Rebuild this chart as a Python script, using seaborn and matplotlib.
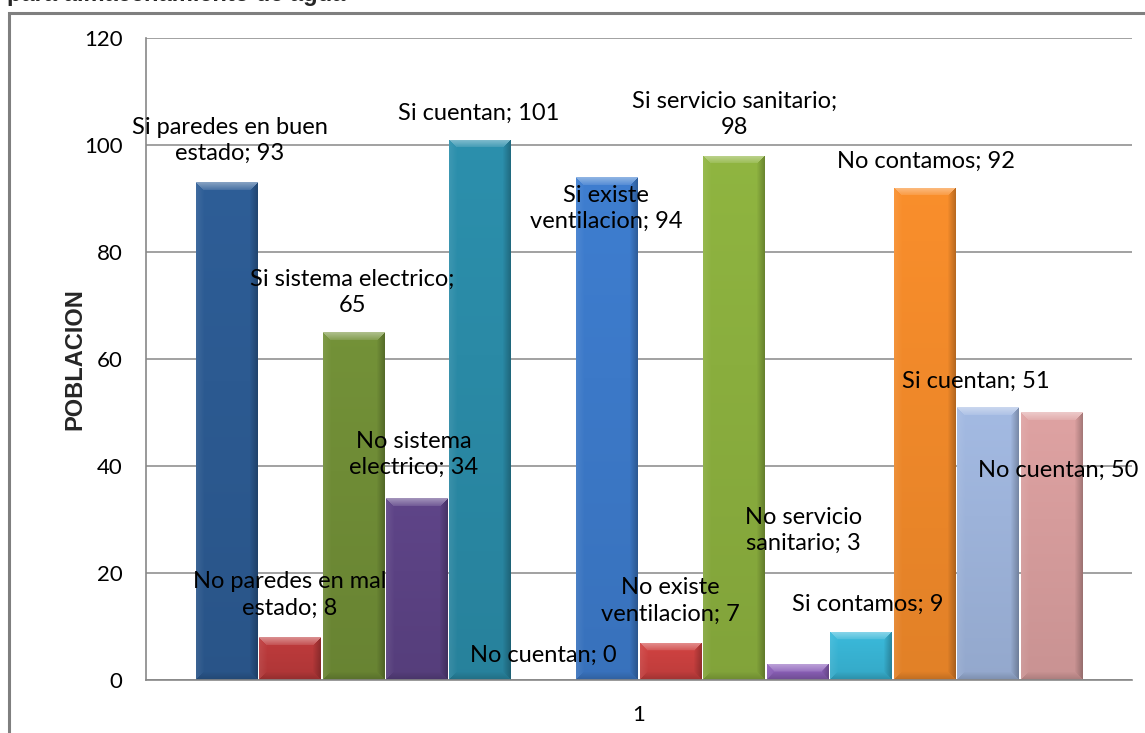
import numpy as np
import pandas as pd
import matplotlib
matplotlib.use("Agg")
import matplotlib.pyplot as plt
import seaborn as sns
from matplotlib.colors import to_rgb
from matplotlib.patches import Rectangle

# ---- data -------------------------------------------------------------
series = [
    "Si paredes en buen\nestado", "No paredes en mal\nestado",
    "Si sistema electrico", "No sistema\nelectrico",
    "Si cuentan", "No cuentan",
    "Si existe\nventilacion", "No existe\nventilacion",
    "Si servicio sanitario", "No servicio\nsanitario",
    "Si contamos", "No contamos",
    "Si cuentan", "No cuentan",
]
values = [93, 8, 65, 34, 101, 0, 94, 7, 98, 3, 9, 92, 51, 50]
category_labels = ["1"]
y_ticks = [0, 20, 40, 60, 80, 100, 120]

# ---- styles -----------------------------------------------------------
colors = ["#2C5A91", "#B8393A", "#6F8C36", "#5B4283", "#2A8AA6", "#E9822E",
          "#3C79C8", "#C9403F", "#8AAE3E", "#8B60B8", "#38B3D3", "#F0892A",
          "#9DB3DA", "#D69C9C"]
# value label placement: (x shift in bar widths, y shift in data units)
label_shift = [(0.06, 7.9), (0.0, 7.9), (-0.02, 7.4), (-0.05, 8.1), (-0.03, 5.0),
               (0.0, 4.7), (-0.02, -5.8), (0.0, 7.8), (0.0, 7.8), (0.09, 25.0),
               (0.11, 5.2), (0.02, 5.0), (-0.2, 4.9), (0.1, -10.9)]
break_after_sep = [False, False, True, False, False, False, False, False,
                   True, False, False, False, False, False]

sns.set_theme(style="white")
plt.rcParams["font.family"] = ["Lato", "DejaVu Sans"]

fig = plt.figure(figsize=(11.45, 7.33), dpi=100)
ax = fig.add_axes([146 / 1145, 1 - 680 / 733, 986 / 1145, 642 / 733])

ids = [f"s{i}" for i in range(len(values))]
df = pd.DataFrame({"id": ids, "valor": values})
sns.barplot(data=df, x="id", y="valor", hue="id", palette=dict(zip(ids, colors)),
            saturation=1, width=0.97, linewidth=0, legend=False, ax=ax, zorder=2)

xlim = (-0.5 - 0.765, len(values) - 0.5 + 0.765)
ylim = (0, 120)
ax.set_xlim(*xlim)
ax.set_ylim(*ylim)

# beveled shading for each bar
p0 = ax.transData.transform((0, 0))
p1 = ax.transData.transform((1, 1))
px_x, px_y = p1[0] - p0[0], p1[1] - p0[1]
bars = sorted(ax.patches, key=lambda p: p.get_x())
for patch, col in zip(bars, colors):
    x0, w, h = patch.get_x(), patch.get_width(), patch.get_height()
    if h <= 0:
        continue
    nr = max(int(round(h * px_y)), 2)
    nc = max(int(round(w * px_x)), 2)
    base = np.array(to_rgb(col))
    r = np.arange(nr)[:, None] * np.ones((1, nc))
    c = np.ones((nr, 1)) * np.arange(nc)[None, :]
    d = np.stack([r, nr - 1 - r, c, nc - 1 - c])
    side = np.argmin(d, axis=0)
    m = np.min(d, axis=0)
    bev = min(8, nr // 2)
    img = np.ones((nr, nc, 3)) * base
    img = img * (1.04 - 0.10 * (r / max(nr - 1, 1)))[..., None]
    inb = m < bev
    white = np.ones(3)
    t = (1 - m / max(bev, 1)) * inb
    top = inb & (side == 0)
    bottom = inb & (side == 1)
    left = inb & (side == 2)
    right = inb & (side == 3)
    img[top] = img[top] * (1 - 0.35 * t[top][:, None]) + white * 0.35 * t[top][:, None]
    img[top] = img[top] * 0.9 + white * 0.1
    img[left] = img[left] * (1 - 0.08 * t[left][:, None]) + white * 0.08 * t[left][:, None]
    img[right] = img[right] * (1 - 0.25 * t[right][:, None])
    img[bottom] = img[bottom] * (1 - 0.15 * t[bottom][:, None])
    img = np.clip(img, 0, 1)
    im = ax.imshow(img, extent=(x0, x0 + w, 0, h), aspect="auto", origin="upper",
                   interpolation="bilinear", zorder=2.5)
    im.set_clip_path(patch)

ax.set_aspect("auto")
ax.set_xlim(*xlim)
ax.set_ylim(*ylim)

# value labels
for i, (name, val) in enumerate(zip(series, values)):
    sep = ";\n" if break_after_sep[i] else "; "
    dx, dy = label_shift[i]
    ax.text(i + dx, val + dy, f"{name}{sep}{val}", ha="center", va="center",
            fontsize=17, color="black", linespacing=1.3, zorder=4)

# axes styling
ax.set_yticks(y_ticks)
ax.set_xticks([(len(values) - 1) / 2])
ax.set_xticklabels(category_labels)
ax.tick_params(axis="both", length=0, labelsize=16, colors="black")
ax.tick_params(axis="y", pad=17)
ax.tick_params(axis="x", pad=18)
ax.yaxis.grid(True, color="#878787", linewidth=1.1)
ax.set_axisbelow(True)
for s in ["top", "right"]:
    ax.spines[s].set_visible(False)
for s in ["left", "bottom"]:
    ax.spines[s].set_color("#878787")
    ax.spines[s].set_linewidth(1.2)
ax.set_xlabel("")
ax.set_ylabel("POBLACION", fontsize=17, fontweight="bold",
              family=["Liberation Sans", "DejaVu Sans"])
ax.yaxis.set_label_coords(-0.06, 0.5)

# chart frame and heading
fig.add_artist(Rectangle((9 / 1145, -0.1), 1.2, 1 - 13 / 733 + 0.1,
                         transform=fig.transFigure, fill=False,
                         edgecolor="#7f7f7f", linewidth=2.2, clip_on=False))
fig.text(7 / 1145, 1 - 1 / 733, "para almacenamiento de agua", fontsize=17,
         fontweight="bold", va="baseline", ha="left",
         family=["Liberation Sans", "DejaVu Sans"])

fig.savefig("out.png", dpi=100, facecolor="white")
